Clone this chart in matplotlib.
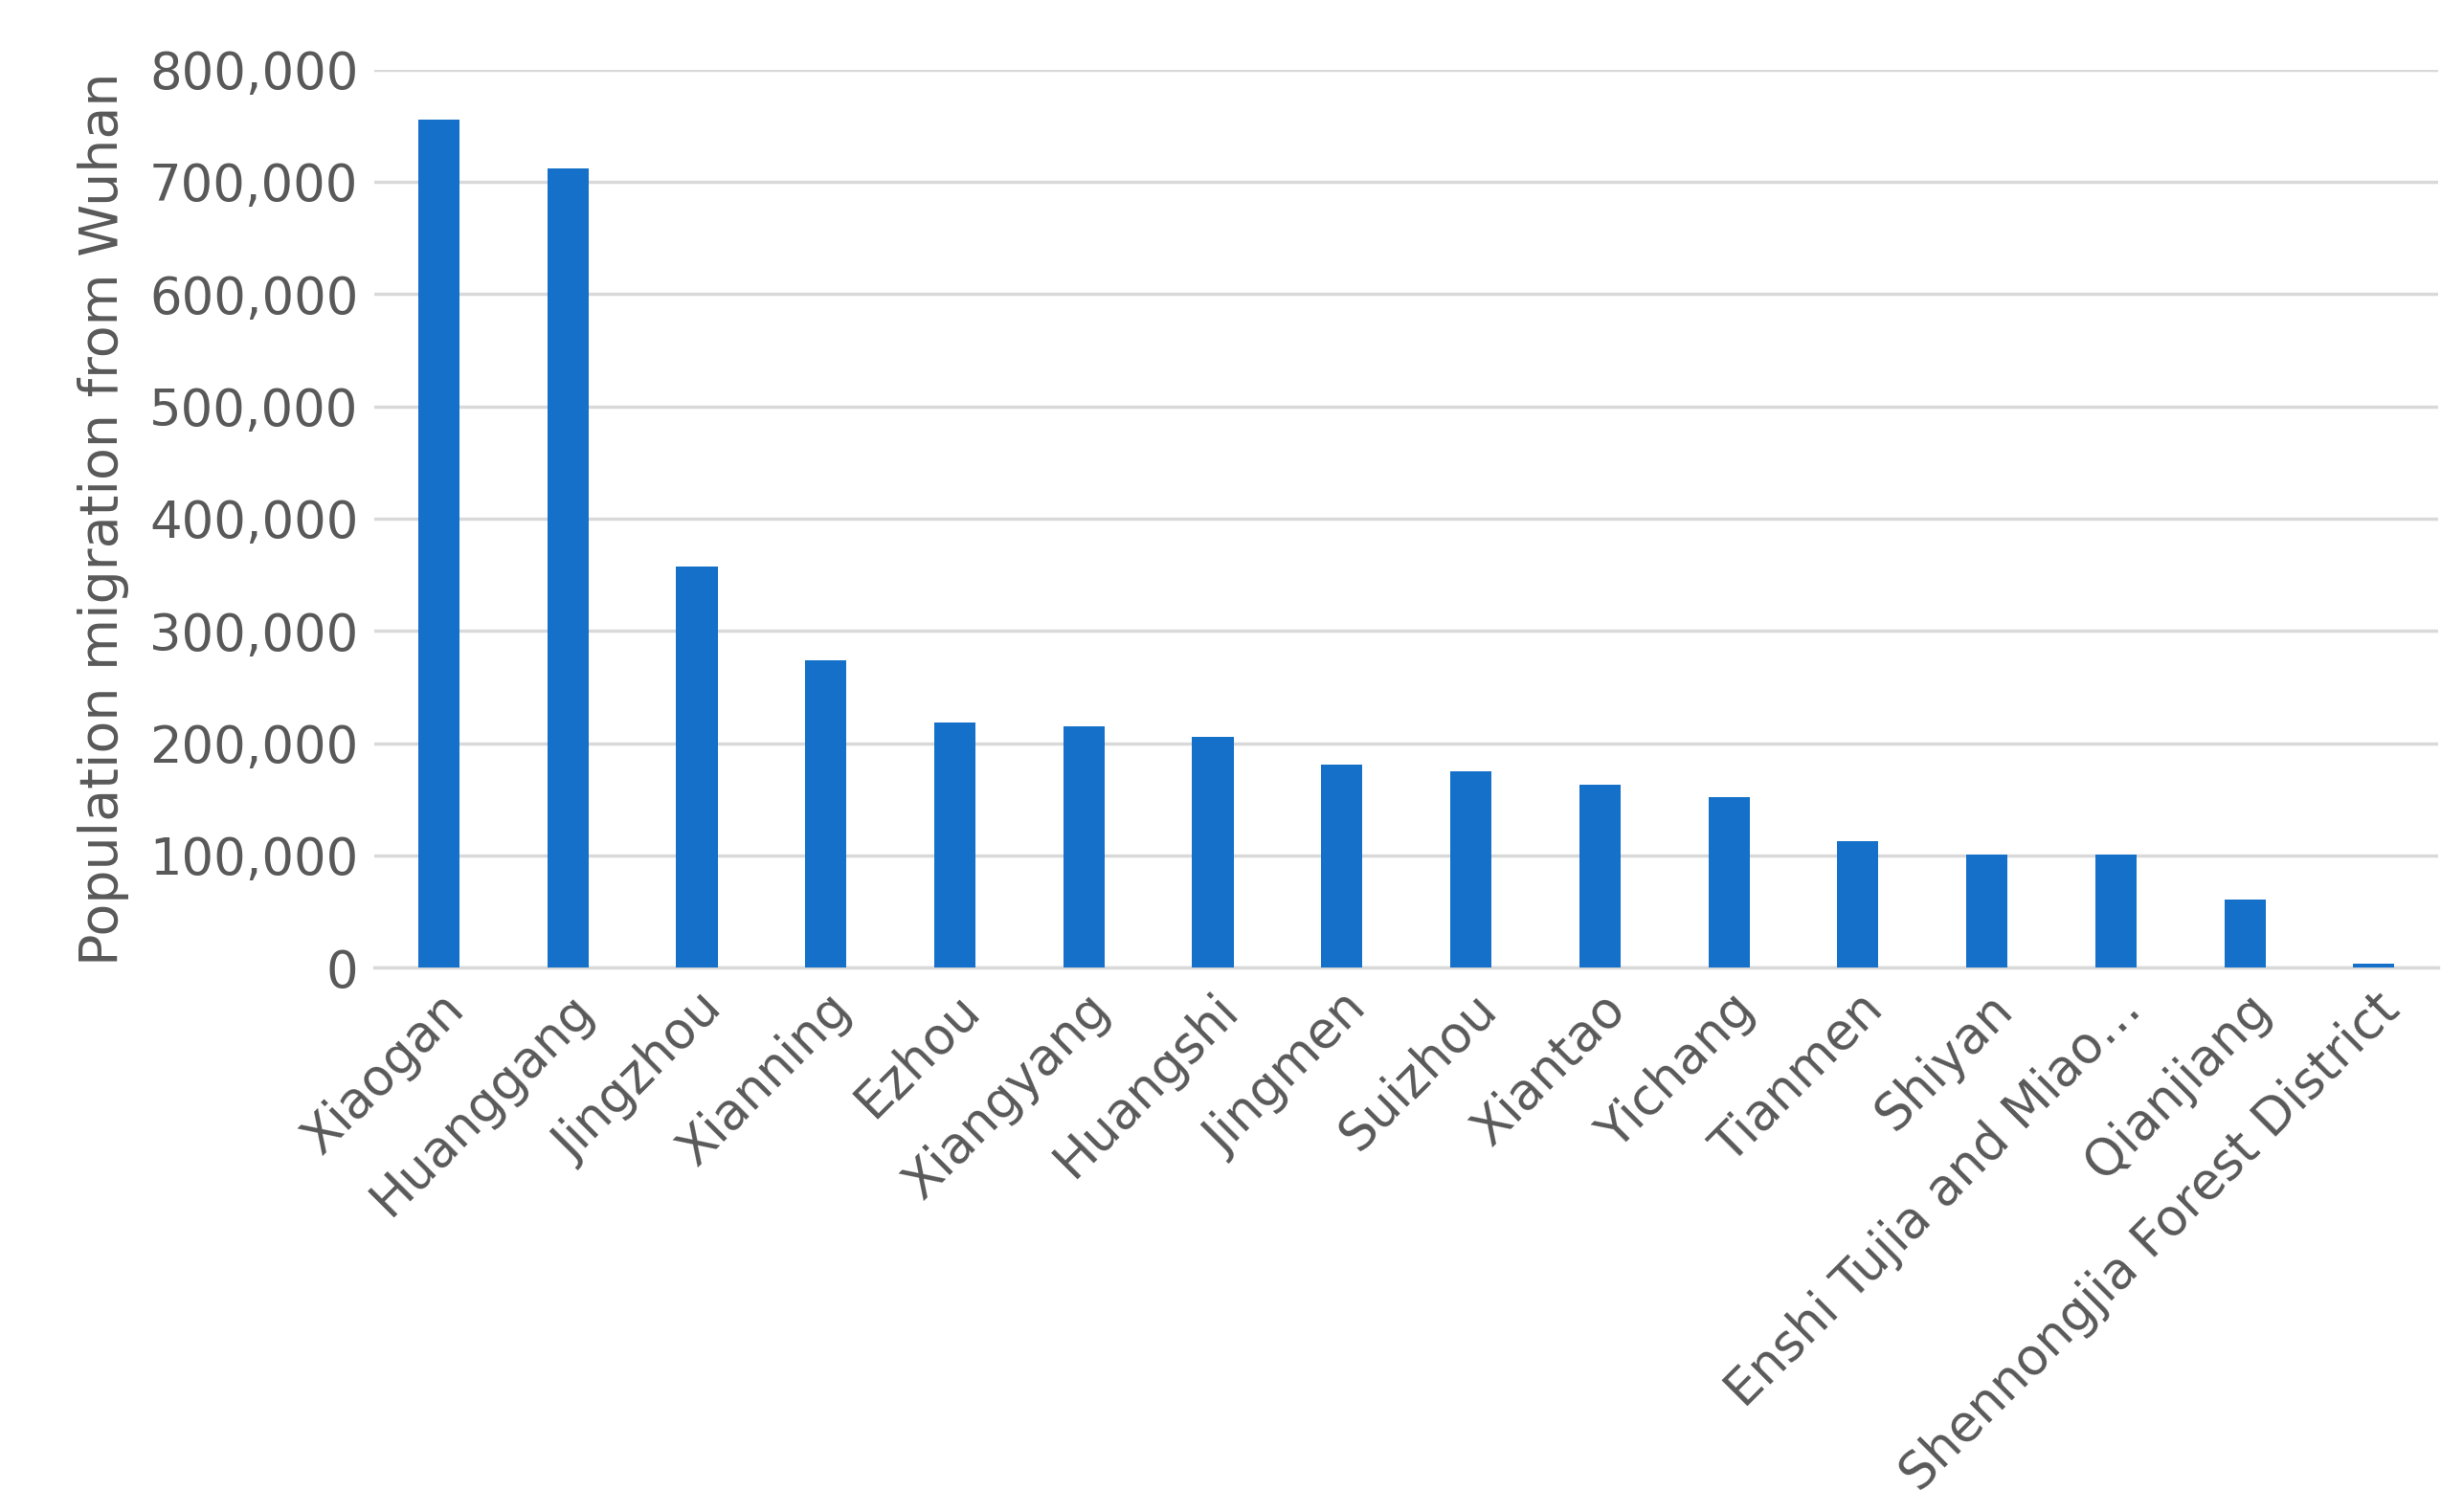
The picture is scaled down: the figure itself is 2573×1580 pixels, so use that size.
import matplotlib
matplotlib.use("Agg")
import matplotlib.pyplot as plt
from matplotlib.ticker import FuncFormatter

cities = ["Xiaogan","Huanggang","Jingzhou","Xianning","Ezhou","Xiangyang","Huangshi","Jingmen",
          "Suizhou","Xiantao","Yichang","Tianmen","Shiyan","Enshi Tujia and Miao…","Qianjiang",
          "Shennongjia Forest District"]
values = [755000,712000,357000,274000,218000,215000,206000,181000,175000,163000,152000,113000,
          101000,101000,61000,4000]
yticks = [0,100000,200000,300000,400000,500000,600000,700000,800000]

fig = plt.figure(figsize=(25.73,15.8), dpi=100)
ax = fig.add_axes([0.152,0.36,0.838,0.594])
ax.bar(range(len(cities)), values, width=0.32, color="#1470C8", zorder=3)
ax.set_xlim(-0.5, len(cities)-0.5)
ax.set_ylim(0,800000)
ax.set_yticks(yticks)
ax.yaxis.set_major_formatter(FuncFormatter(lambda v,p: f"{int(v):,}"))
ax.grid(axis="y", color="#D9D9D9", lw=2.5, zorder=0)
for s in ["top","right","left"]:
    ax.spines[s].set_visible(False)
ax.spines["bottom"].set_color("#D9D9D9"); ax.spines["bottom"].set_linewidth(2.5)
ax.tick_params(length=0, labelsize=38, colors="#595959", pad=12)
ax.set_xticks(range(len(cities)))
ax.set_xticklabels(cities, rotation=45, ha="right", rotation_mode="anchor")
ax.set_ylabel("Population migration from Wuhan", fontsize=40, color="#595959", labelpad=15)
fig.savefig("out.png", dpi=100)
